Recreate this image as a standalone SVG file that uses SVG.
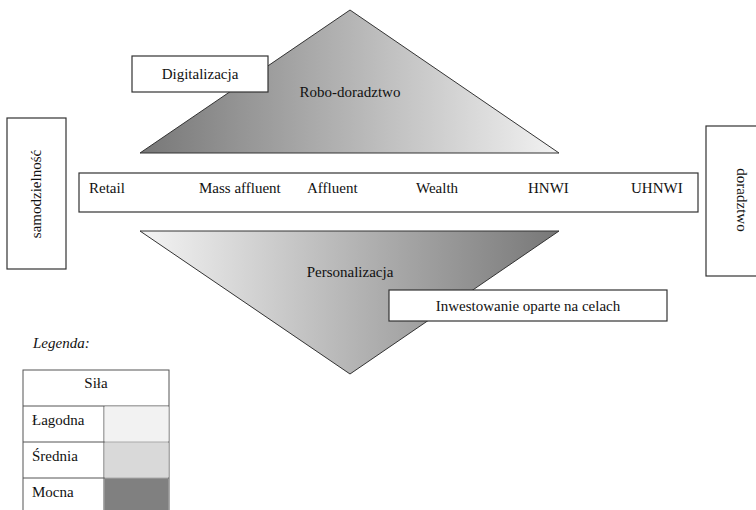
<svg xmlns="http://www.w3.org/2000/svg" width="756" height="510" viewBox="0 0 756 510" font-family="'Liberation Serif', 'DejaVu Serif', serif">
<style>
.box{fill:#fff;stroke:#333;stroke-width:1.2}
.tri{stroke:#333;stroke-width:1}
text{font-family:'Liberation Serif','DejaVu Serif',serif;font-size:15px;fill:#111}
.c{text-anchor:middle}
.cell{stroke:#555;stroke-width:1}
</style>
<defs>
<linearGradient id="gTop" x1="0" y1="0" x2="1" y2="0">
<stop offset="0" stop-color="#777"/>
<stop offset="1" stop-color="#f2f2f2"/>
</linearGradient>
<linearGradient id="gBot" x1="0" y1="0" x2="1" y2="0">
<stop offset="0" stop-color="#f4f4f4"/>
<stop offset="1" stop-color="#777"/>
</linearGradient>
</defs>
<g id="top-triangle">
<polygon class="tri" points="350,10 559,153 140,153" fill="url(#gTop)"/>
<text class="c" x="350" y="97">Robo-doradztwo</text>
</g>
<g id="digitalizacja">
<rect class="box" x="132" y="56" width="136" height="36"/>
<text class="c" x="200" y="79">Digitalizacja</text>
</g>
<g id="samodzielnosc">
<rect class="box" x="7" y="118" width="59" height="151"/>
<text class="c" transform="translate(41,194) rotate(-90)">samodzielność</text>
</g>
<g id="doradztwo">
<rect class="box" x="706" y="126" width="60" height="150"/>
<text class="c" transform="translate(737,200) rotate(90)">doradztwo</text>
</g>
<g id="segments">
<rect class="box" x="79" y="173" width="619" height="39"/>
<text x="89" y="193">Retail</text>
<text x="199" y="193">Mass affluent</text>
<text x="307" y="193">Affluent</text>
<text x="416" y="193">Wealth</text>
<text x="528" y="193">HNWI</text>
<text x="631" y="193">UHNWI</text>
</g>
<g id="bottom-triangle">
<polygon class="tri" points="140,231 559,231 350,374" fill="url(#gBot)"/>
<text class="c" x="350" y="277">Personalizacja</text>
</g>
<g id="inwestowanie">
<rect class="box" x="389" y="290" width="278" height="31"/>
<text class="c" x="528" y="311">Inwestowanie oparte na celach</text>
</g>
<g id="connectors"></g>
<g id="legend">
<text x="33" y="348" font-style="italic">Legenda:</text>
<rect class="cell" x="23" y="370" width="146" height="146" fill="#fff"/>
<line class="cell" x1="23" y1="406" x2="169" y2="406"/>
<line class="cell" x1="23" y1="442" x2="169" y2="442"/>
<line class="cell" x1="23" y1="478" x2="169" y2="478"/>
<line class="cell" x1="104" y1="406" x2="104" y2="516"/>
<rect x="104.5" y="406.5" width="64" height="35" fill="#f2f2f2"/>
<rect x="104.5" y="442.5" width="64" height="35" fill="#d9d9d9"/>
<rect x="104.5" y="478.5" width="64" height="35" fill="#808080"/>
<text class="c" x="96" y="388">Siła</text>
<text x="32" y="425">Łagodna</text>
<text x="32" y="461">Średnia</text>
<text x="32" y="497">Mocna</text>
</g>
</svg>
